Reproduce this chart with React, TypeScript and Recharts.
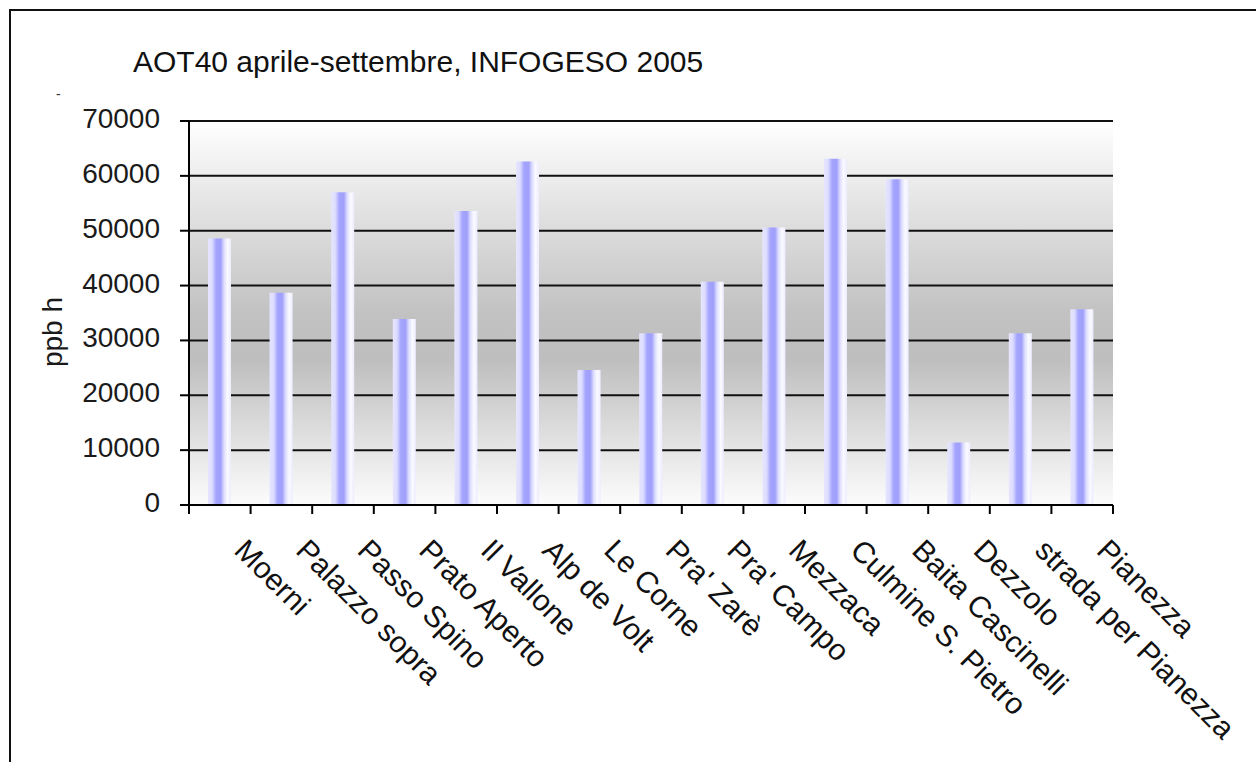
import { BarChart, Bar, XAxis, YAxis, CartesianGrid } from 'recharts';

const categories = [
  'Moerni',
  'Palazzo sopra',
  'Passo Spino',
  'Prato Aperto',
  'Il Vallone',
  'Alp de Volt',
  'Le Corne',
  "Pra' Zarè",
  "Pra' Campo",
  'Mezzaca',
  'Culmine S. Pietro',
  'Baita Cascinelli',
  'Dezzolo',
  'strada per Pianezza',
  'Pianezza',
];

const aot40 = [48600, 38700, 57000, 33900, 53600, 62600, 24600, 31300, 40700, 50600, 63100, 59400, 11400, 31300, 35700];

const yTicks = [0, 10000, 20000, 30000, 40000, 50000, 60000, 70000];

const title = 'AOT40 aprile-settembre, INFOGESO 2005';
const yLabel = 'ppb h';

const data = categories.map((name, i) => ({ name, value: aot40[i] }));

const W = 1256;
const H = 762;
const PLOT_LEFT = 189;
const PLOT_RIGHT = 1113;
const PLOT_TOP = 121;
const PLOT_BOTTOM = 505;
const FONT = 'Arial, "Liberation Sans", sans-serif';

// tick marks sit between the categories, like the old spreadsheet chart
const XTick = (props: any) => {
  const { x, y, payload, index } = props;
  const half = (PLOT_RIGHT - PLOT_LEFT) / categories.length / 2;
  const lx = x + 13;
  const ly = y + 47;
  return (
    <g>
      <line x1={x - half} x2={x - half} y1={y} y2={y + 9} stroke="#000" strokeWidth={2} />
      {index === categories.length - 1 && (
        <line x1={x + half} x2={x + half} y1={y} y2={y + 9} stroke="#000" strokeWidth={2} />
      )}
      <text
        x={lx}
        y={ly}
        transform={`rotate(45 ${lx} ${ly})`}
        textAnchor="start"
        fontSize={30}
        fontFamily={FONT}
        fill="#111"
      >
        {payload.value}
      </text>
    </g>
  );
};

const YTick = (props: any) => {
  const { x, y, payload } = props;
  return (
    <text x={x} y={y - 3} dy="0.355em" textAnchor="end" fontSize={28} fontFamily={FONT} fill="#1a1a1a">
      {payload.value}
    </text>
  );
};

export default function App() {
  return (
    <div style={{ position: 'absolute', left: 0, top: 0, width: W, height: H, background: '#fff' }}>
      <div
        style={{
          position: 'absolute',
          left: 9,
          top: 9,
          right: 0,
          bottom: 0,
          borderTop: '2px solid #111',
          borderLeft: '2px solid #111',
        }}
      />
      <div
        style={{
          position: 'absolute',
          left: 133,
          top: 47,
          fontSize: 30,
          lineHeight: '30px',
          fontFamily: FONT,
          color: '#111',
          whiteSpace: 'nowrap',
        }}
      >
        {title}
      </div>
      <div style={{ position: 'absolute', left: 56, top: 86, fontSize: 14, fontFamily: FONT, color: '#333' }}>-</div>
      <div style={{ position: 'absolute', left: 0, top: 0 }}>
        <BarChart
          width={W}
          height={H}
          data={data}
          margin={{ top: PLOT_TOP, right: W - PLOT_RIGHT, bottom: 7, left: 0 }}
          barSize={23}
        >
          <defs>
            <linearGradient id="bgGrad" x1="0" y1="0" x2="0" y2="1">
              <stop offset="0%" stopColor="#ffffff" />
              <stop offset="20%" stopColor="#e6e6e6" />
              <stop offset="50%" stopColor="#c2c2c2" />
              <stop offset="62%" stopColor="#bebebe" />
              <stop offset="85%" stopColor="#e4e4e4" />
              <stop offset="100%" stopColor="#fcfcfc" />
            </linearGradient>
            <linearGradient id="barGrad" x1="0" y1="0" x2="1" y2="0">
              <stop offset="0%" stopColor="#e6e6ff" />
              <stop offset="18%" stopColor="#dcdcff" />
              <stop offset="35%" stopColor="#a4a4ff" />
              <stop offset="55%" stopColor="#a0a0fa" />
              <stop offset="70%" stopColor="#dedeff" />
              <stop offset="85%" stopColor="#fafaff" />
              <stop offset="100%" stopColor="#ececff" />
            </linearGradient>
          </defs>
          <CartesianGrid
            vertical={false}
            stroke="#111"
            strokeWidth={2}
            fill="url(#bgGrad)"
            fillOpacity={1}
          />
          <XAxis
            dataKey="name"
            interval={0}
            height={H - PLOT_BOTTOM - 7}
            tickLine={false}
            tickSize={0}
            tickMargin={0}
            axisLine={{ stroke: '#000', strokeWidth: 2 }}
            tick={<XTick />}
          />
          <YAxis
            width={PLOT_LEFT}
            domain={[0, 70000]}
            ticks={yTicks}
            interval={0}
            tickSize={9}
            tickMargin={20}
            tickLine={{ stroke: '#000', strokeWidth: 2 }}
            axisLine={{ stroke: '#000', strokeWidth: 2 }}
            tick={<YTick />}
            label={{
              content: () => (
                <text
                  x={52}
                  y={332}
                  transform="rotate(-90 52 332)"
                  textAnchor="middle"
                  dominantBaseline="central"
                  fontSize={28}
                  fontFamily={FONT}
                  fill="#1a1a1a"
                >
                  {yLabel}
                </text>
              ),
            }}
          />
          <YAxis
            yAxisId="right"
            orientation="right"
            width={0}
            domain={[0, 70000]}
            tick={false}
            tickLine={false}
            axisLine={{ stroke: '#333', strokeWidth: 2 }}
          />
          <Bar dataKey="value" fill="url(#barGrad)" isAnimationActive={false} />
        </BarChart>
      </div>
    </div>
  );
}
